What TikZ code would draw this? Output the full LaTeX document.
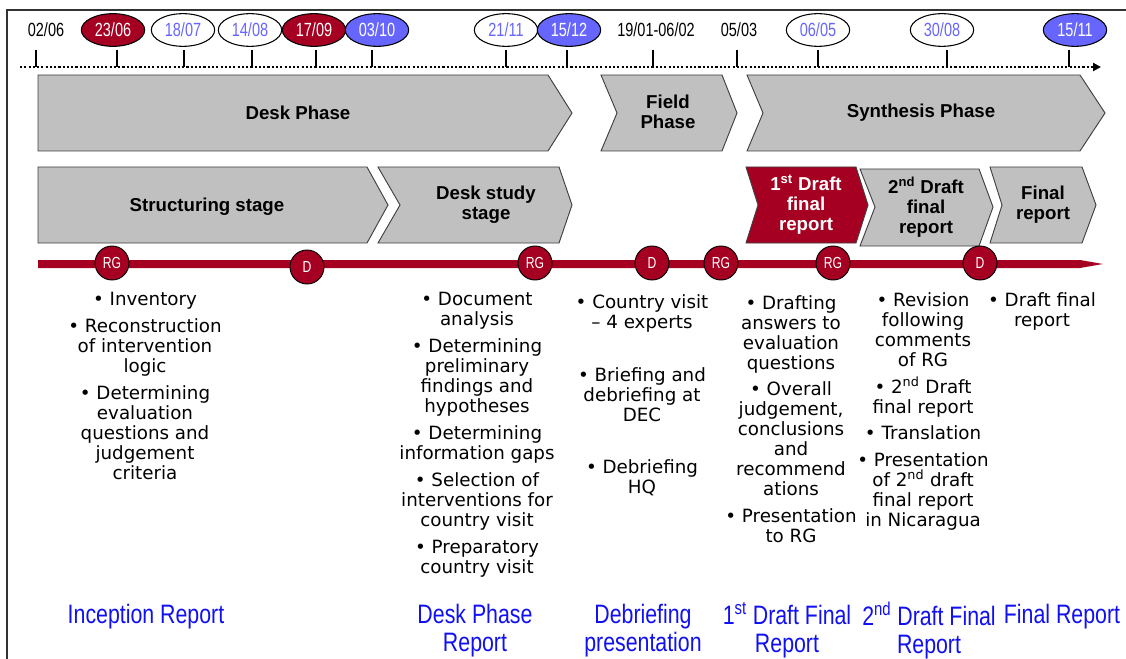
\documentclass[tikz,border=0pt]{standalone}
\usepackage{fontspec}
\setmainfont{Liberation Sans}
\newfontfamily\bodyfont{DejaVu Sans}
\newfontfamily\narrowd[FakeStretch=0.76]{Liberation Sans}
\newfontfamily\narrowl[FakeStretch=0.8]{Liberation Sans}
\usetikzlibrary{shapes.geometric,arrows.meta}
\definecolor{darkred}{RGB}{165,0,33}
\definecolor{dateblue}{RGB}{102,102,255}
\definecolor{boxgray}{RGB}{192,192,192}
\definecolor{delblue}{RGB}{16,16,240}
\newcommand{\nolskip}{\lineskiplimit -20pt\relax}
\begin{document}
\begin{tikzpicture}[x=0.75pt,y=-0.75pt,
  datebox/.style={ellipse, draw=black, line width=0.8pt, minimum width=47.5pt, minimum height=24.5pt, inner sep=0pt, font=\narrowd\fontsize{14.3}{15}\selectfont},
  dwhite/.style={datebox, fill=white, text=dateblue},
  dred/.style={datebox, fill=darkred, text=white},
  dblue/.style={datebox, fill=dateblue, text=white},
  dplain/.style={inner sep=0pt, font=\narrowd\fontsize{14.3}{15}\selectfont},
  tickline/.style={line width=1.9pt},
  timeline/.style={line width=1.6pt, dash pattern=on 1.6pt off 1.6pt, -{Triangle[length=6pt,width=6pt]}},
  chev/.style={fill=boxgray, draw=black!75, line width=0.7pt},
  chevred/.style={fill=darkred, draw=black!75, line width=0.7pt},
  phaselabel/.style={font=\bfseries\fontsize{14}{15}\selectfont\nolskip, align=center, inner sep=0pt},
  milestone/.style={circle, fill=darkred, draw=black, line width=0.7pt, minimum size=25.5pt, inner sep=0pt, text=white, font=\narrowd\fontsize{12}{12}\selectfont},
  bullets/.style={anchor=north, align=center, inner sep=0pt, font=\bodyfont\fontsize{13.7}{15}\selectfont\nolskip},
  deliverable/.style={anchor=north, align=center, inner sep=0pt, text=delblue, font=\narrowl\fontsize{20}{21}\selectfont\nolskip}
]
\useasboundingbox (0,0) rectangle (1126,659);
% frame
\draw[line width=0.8pt, black!80] (7,659) -- (7,10) -- (1126,10);

% dates
\node[dplain] (d0206) at (46,30) {02/06};
\node[dred]   (d2306) at (113,30) {23/06};
\node[dwhite] (d1807) at (183,30) {18/07};
\node[dwhite] (d1408) at (250,30) {14/08};
\node[dred]   (d1709) at (314,30) {17/09};
\node[dblue]  (d0310) at (377,30) {03/10};
\node[dwhite] (d2111) at (506,30) {21/11};
\node[dblue]  (d1512) at (569,30) {15/12};
\node[dplain] (d1901) at (656,30) {19/01-06/02};
\node[dplain] (d0503) at (739,30) {05/03};
\node[dwhite] (d0605) at (818,30) {06/05};
\node[dwhite] (d3008) at (942,30) {30/08};
\node[dblue]  (d1511) at (1075,30) {15/11};

% timeline
\coordinate (tlstart) at (20,67);
\coordinate (tlend) at (1101,67);
\draw[timeline] (tlstart) -- (tlend);
\foreach \x in {36,117,184,252,316,372,506,567,653,737,818,947,1069}
  \draw[tickline] (\x,50) -- (\x,67);

% phase row
\draw[chev] (38,75) -- (548,75) -- (572,113) -- (548,151) -- (38,151) -- cycle;
\node[phaselabel] (deskphase) at (298,113) {Desk Phase};
\draw[chev] (601,75) -- (722,75) -- (737,113) -- (722,151) -- (601,151) -- (617,113) -- cycle;
\node[phaselabel] (fieldphase) at (668,112) {Field\\Phase};
\draw[chev] (747,75) -- (1080,75) -- (1105,113) -- (1080,151) -- (747,151) -- (763,113) -- cycle;
\node[phaselabel] (synthphase) at (921,113) {Synthesis Phase};

% stage row
\draw[chev] (38,167) -- (367,167) -- (388,205) -- (367,243) -- (38,243) -- cycle;
\node[phaselabel] (structuring) at (207,207) {Structuring stage};
\draw[chev] (378,167) -- (559,167) -- (572,205) -- (559,243) -- (378,243) -- (400,205) -- cycle;
\node[phaselabel] (deskstudy) at (486,205) {Desk study\\stage};
\draw[chevred] (746,167) -- (856,167) -- (868,205) -- (856,243) -- (746,243) -- (758,205) -- cycle;
\node[phaselabel, text=white] (firstdraft) at (806,205) {1\textsuperscript{st} Draft\\final\\report};
\draw[chev] (860,169) -- (979,169) -- (993,207) -- (979,246) -- (860,246) -- (875,207) -- cycle;
\node[phaselabel] (seconddraft) at (926,207) {2\textsuperscript{nd} Draft\\final\\report};
\draw[chev] (990,167) -- (1082,167) -- (1096,205) -- (1082,243) -- (990,243) -- (1002,205) -- cycle;
\node[phaselabel] (finalrep) at (1043,205) {Final\\report};

% red bar
\fill[darkred] (38,260) -- (1080,260) -- (1103,264) -- (1080,268) -- (38,268) -- cycle;
\node[milestone] (m1) at (112,263) {RG};
\node[milestone] (m2) at (307,267) {D};
\node[milestone] (m3) at (535,263) {RG};
\node[milestone] (m4) at (652,263) {D};
\node[milestone] (m5) at (721,263) {RG};
\node[milestone] (m6) at (833,263) {RG};
\node[milestone] (m7) at (980,263) {D};

% activities
\node[bullets] (col1) at (145,292) {• Inventory\\[5.25pt]• Reconstruction\\of intervention\\logic\\[5.25pt]• Determining\\evaluation\\questions and\\judgement\\criteria};
\node[bullets] (col2) at (477,292) {• Document\\analysis\\[5.25pt]• Determining\\preliminary\\findings and\\hypotheses\\[5.25pt]• Determining\\information gaps\\[5.25pt]• Selection of\\interventions for\\country visit\\[5.25pt]• Preparatory\\country visit};
\node[bullets] (col3) at (642,294) {• Country visit\\– 4 experts\\[24.75pt]• Briefing and\\debriefing at\\DEC\\[24pt]• Debriefing\\HQ};
\node[bullets] (col4) at (791,295) {• Drafting\\answers to\\evaluation\\questions\\[4.5pt]• Overall\\judgement,\\conclusions\\and\\recommend\\ations\\[5.25pt]• Presentation\\to RG};
\node[bullets] (col5) at (923,292) {• Revision\\following\\comments\\of RG\\[5.25pt]• 2\textsuperscript{nd} Draft\\final report\\[4.5pt]• Translation\\[5.25pt]• Presentation\\of 2\textsuperscript{nd} draft\\final report\\in Nicaragua};
\node[bullets] (col6) at (1042,292) {• Draft final\\report};

% deliverables
\node[deliverable] (del1) at (146,604) {Inception Report};
\node[deliverable] (del2) at (475,604) {Desk Phase\\Report};
\node[deliverable] (del3) at (643,604) {Debriefing\\presentation};
\node[deliverable] (del4) at (787,602) {1\textsuperscript{st} Draft Final\\Report};
\node[deliverable] (del5) at (929,602) {2\textsuperscript{nd} Draft Final\\Report};
\node[deliverable] (del6) at (1062,604) {Final Report};
\end{tikzpicture}
\end{document}
